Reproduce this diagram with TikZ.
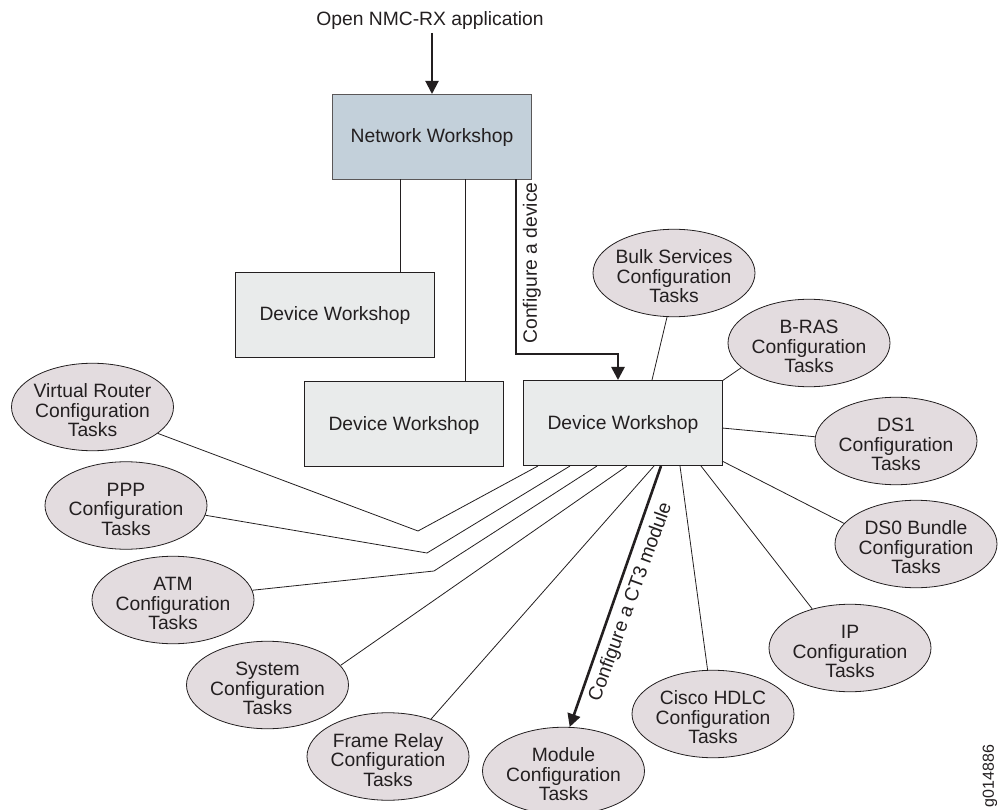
\documentclass[tikz,border=0pt]{standalone}
\usepackage{fontspec}
\setmainfont{Liberation Sans}
\usetikzlibrary{arrows.meta,shapes.geometric}
\definecolor{ink}{HTML}{231F20}
\definecolor{netfill}{HTML}{C3D0DA}
\definecolor{devfill}{HTML}{E9EBEB}
\definecolor{taskfill}{HTML}{E3DCDF}
\newcommand{\fl}{\rule{0pt}{21pt}}
\tikzset{
  every node/.style={text=ink,font=\fontsize{19.3}{19.5}\selectfont},
  netbox/.style={draw=ink!75,line width=1pt,fill=netfill,minimum width=199pt,minimum height=85pt,inner sep=0pt,anchor=north west,text height=14pt,text depth=2pt},
  devbox/.style={draw=ink,line width=1pt,fill=devfill,minimum width=199pt,minimum height=85pt,inner sep=0pt,anchor=north west,text height=14pt,text depth=2pt},
  task/.style={draw=ink,line width=0.8pt,fill=taskfill,ellipse,minimum width=162pt,minimum height=87.5pt,inner xsep=-15pt,inner ysep=-5pt,align=center},
  thin link/.style={draw=ink,line width=0.8pt},
  thick link/.style={draw=ink,line width=2.6pt,-{Triangle[length=13pt,width=13pt]}},
}
\begin{document}
\begin{tikzpicture}[x=1pt,y=-1pt]
\useasboundingbox (0,0) rectangle (999,810);
\clip (0,0) rectangle (999,810);
\node (open) at (430,21) {Open NMC-RX application};
\node[netbox] (net) at (332,94) {Network Workshop};
\node[devbox] (dev1) at (235,272) {Device Workshop};
\node[devbox] (dev2) at (304,381) {Device Workshop};
\node[devbox] (dev3) at (523,380) {Device Workshop};
\node[task] (bulk) at (674,273) {\fl Bulk Services\\Configuration\\Tasks};
\node[task] (bras) at (809,343) {\fl B-RAS\\Configuration\\Tasks};
\node[task] (ds1) at (896,441) {\fl DS1\\Configuration\\Tasks};
\node[task] (ds0) at (916,544) {\fl DS0 Bundle\\Configuration\\Tasks};
\node[task] (ip) at (850,648) {\fl IP\\Configuration\\Tasks};
\node[task] (hdlc) at (713,714) {\fl Cisco HDLC\\Configuration\\Tasks};
\node[task] (module) at (563.5,771) {\fl Module\\Configuration\\Tasks};
\node[task] (frame) at (388,756.5) {\fl Frame Relay\\Configuration\\Tasks};
\node[task] (system) at (267.5,685) {\fl System\\Configuration\\Tasks};
\node[task] (atm) at (173,600) {\fl ATM\\Configuration\\Tasks};
\node[task] (ppp) at (126,505.5) {\fl PPP\\Configuration\\Tasks};
\node[task] (vr) at (92.5,407) {\fl Virtual Router\\Configuration\\Tasks};
% junctions
\coordinate (n1) at (400,179.5); \coordinate (n1e) at (400,272);
\coordinate (n2) at (465,179.5); \coordinate (n2e) at (465,381);
\coordinate (n3) at (516,179.5); \coordinate (n3a) at (516,354); \coordinate (n3b) at (618,354); \coordinate (n3e) at (618,380);
\coordinate (a1) at (538,466); \coordinate (j1) at (418,531);
\coordinate (a2) at (570,466); \coordinate (j2) at (427,553);
\coordinate (a3) at (597,466); \coordinate (j3) at (434,571);
\coordinate (a4) at (627,466);
\coordinate (a5) at (654,466);
\coordinate (a6) at (661,466);
\coordinate (a7) at (680,466);
\coordinate (a8) at (701,466);
\coordinate (a9) at (722,461);
\coordinate (a10) at (722,428);
\coordinate (a11) at (722,381);
\coordinate (a12) at (652,380);
\coordinate (top) at (432,33); \coordinate (topE) at (432,94);
% links
\draw[thin link] (n1) -- (n1e);
\draw[thin link] (n2) -- (n2e);
\draw[thin link] (vr.-22) -- (j1) -- (a1);
\draw[thin link] (ppp.-7.4) -- (j2) -- (a2);
\draw[thin link] (atm.7.8) -- (j3) -- (a3);
\draw[thin link] (system.15) -- (a4);
\draw[thin link] (frame.41.8) -- (a5);
\draw[thin link] (hdlc.97.8) -- (a7);
\draw[thin link] (ip.134) -- (a8);
\draw[thin link] (ds0.164.8) -- (a9);
\draw[thin link] (ds1.177) -- (a10);
\draw[thin link] (bras.-160) -- (a11);
\draw[thin link] (bulk.-99) -- (a12);
\draw[thick link,line width=2pt] (top) -- (topE);
\draw[thick link] (n3) -- (n3a) -- (n3b) -- (n3e);
\draw[thick link] (a6) -- (module.82.9);
\node[rotate=90] (lab1) at (532,263) {Configure a device};
\node[rotate=70] (lab2) at (631,602) {Configure a CT3 module};
\node[rotate=90,font=\fontsize{16}{18}\selectfont] (gnum) at (990,776) {g014886};
\end{tikzpicture}
\end{document}
